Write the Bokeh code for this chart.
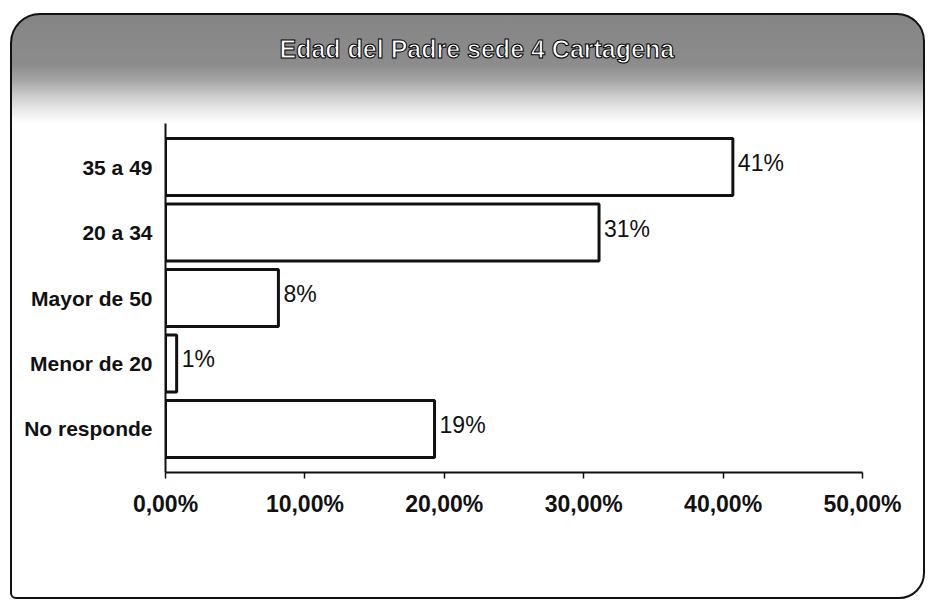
from bokeh.plotting import figure
from bokeh.models import ColumnDataSource, FixedTicker, Title
from bokeh.core.properties import value
from bokeh.embed import file_html
from bokeh.resources import INLINE

# ---- data ----
title_text = "Edad del Padre sede 4 Cartagena"
categories = ["35 a 49", "20 a 34", "Mayor de 50", "Menor de 20", "No responde"]
percent_values = [40.7, 31.1, 8.1, 0.8, 19.3]
x_ticks = [0, 10, 20, 30, 40, 50]
x_tick_labels = ["0,00%", "10,00%", "20,00%", "30,00%", "40,00%", "50,00%"]

bar_labels = [f"{round(v)}%" for v in percent_values]
source = ColumnDataSource(dict(cat=categories, val=percent_values, lab=bar_labels))

y_order = list(reversed(categories))

W, H = 915, 586
MB_L, MB_R, MB_T, MB_B = 153, 65, 108, 129
p = figure(width=W, height=H, y_range=y_order, x_range=(0, 50),
           output_backend="svg", toolbar_location=None,
           min_border_left=MB_L, min_border_right=MB_R,
           min_border_top=MB_T, min_border_bottom=MB_B)
p.y_range.range_padding = 0.066

p.border_fill_alpha = 0
p.background_fill_color = "white"
p.outline_line_color = None
p.styles = {
    "margin-left": "10px",
    "margin-top": "13px",
    "background": "linear-gradient(to bottom, #858585 0px, #8c8c8c 50px, #a6a6a6 66px, #cfcfcf 82px, #ececec 97px, #ffffff 108px)",
    "border": "2px solid #111",
    "border-radius": "30px 28px 26px 6px",
    "box-sizing": "border-box",
}

# spacer between frame and title, then the title itself (further from frame)
spacer = Title(text="\u00a0", text_font_size="12px", standoff=40)
p.add_layout(spacer, "above")
main_title = Title(text=title_text, align="left", offset=114, standoff=10,
                   text_font="Liberation Sans", text_font_style="bold",
                   text_font_size="25px", text_color="white",
                   text_outline_color="black")
p.add_layout(main_title, "above")

p.hbar(y="cat", right="val", left=0, height=0.87, source=source,
       fill_color="white", line_color="#111111", line_width=3)

p.text(x="val", y="cat", text="lab", source=source,
       x_offset=5, y_offset=-4,
       text_font=value("Liberation Sans"), text_font_size="23px",
       text_color="#111111", text_baseline="middle", text_align="left")

p.xgrid.grid_line_color = None
p.ygrid.grid_line_color = None

p.xaxis.ticker = FixedTicker(ticks=x_ticks)
p.xaxis.major_label_overrides = dict(zip(x_ticks, x_tick_labels))
p.xaxis.minor_tick_line_color = None
p.xaxis.major_tick_out = 6
p.xaxis.major_tick_in = 0
p.xaxis.axis_line_width = 2
p.xaxis.axis_line_color = "#111111"
p.xaxis.major_tick_line_color = "#111111"
p.xaxis.major_tick_line_width = 1.5
p.xaxis.major_label_text_font = "Liberation Sans"
p.xaxis.major_label_text_font_style = "bold"
p.xaxis.major_label_text_font_size = "23px"
p.xaxis.major_label_text_color = "#111111"
p.xaxis.major_label_standoff = 12

p.yaxis.axis_line_width = 2
p.yaxis.axis_line_color = "#111111"
p.yaxis.major_tick_line_color = None
p.yaxis.minor_tick_line_color = None
p.yaxis.major_label_text_font = "Liberation Sans"
p.yaxis.major_label_text_font_style = "bold"
p.yaxis.major_label_text_font_size = "21px"
p.yaxis.major_label_text_color = "#111111"
p.yaxis.major_label_standoff = 7

open("out.html", "w").write(file_html(p, INLINE))
